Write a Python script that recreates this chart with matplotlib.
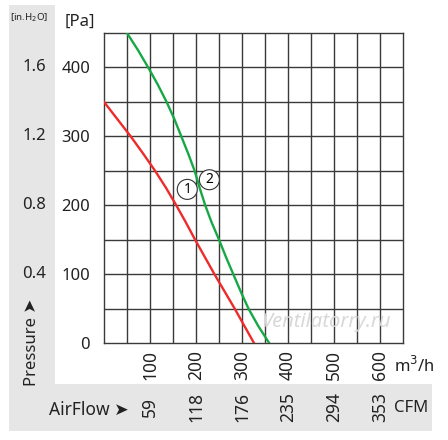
import matplotlib
matplotlib.use("Agg")
import matplotlib.pyplot as plt
import matplotlib.transforms as mtransforms
from matplotlib.patches import Rectangle

plt.rcParams['font.family'] = ['Noto Sans', 'DejaVu Sans']

# curve 1 (red) and curve 2 (green), airflow in m3/h, pressure in Pa
flow_1 = [0, 29, 58, 85, 111, 135, 157, 178, 198, 219, 240, 262, 284, 305, 326]
pres_1 = [350, 325, 300, 275, 250, 225, 200, 175, 150, 125, 100, 75, 50, 25, 0]
flow_2 = [50, 74, 96, 117, 136, 153, 168, 183, 197, 208, 220, 234, 250, 265, 281, 297, 314, 335, 359]
pres_2 = [450, 425, 400, 375, 350, 325, 300, 275, 250, 225, 200, 175, 150, 125, 100, 75, 50, 25, 0]

pa_ticks = [0, 100, 200, 300, 400]
inh2o_labels = ['0.4', '0.8', '1.2', '1.6']
inh2o_at = [100, 200, 300, 400]
m3h_ticks = [100, 200, 300, 400, 500, 600]
cfm_labels = ['59', '118', '176', '235', '294', '353']

W, H = 448, 440
fig = plt.figure(figsize=(W / 100, H / 100), dpi=100)

grey = '#e6e6e6'
txt = '#222222'
fig.patches.append(Rectangle((9 / W, (H - 384) / H), 46 / W, 379 / H,
                             transform=fig.transFigure, fc=grey, ec='none', zorder=0))
fig.patches.append(Rectangle((9 / W, (H - 431) / H), 423 / W, 47 / H,
                             transform=fig.transFigure, fc=grey, ec='none', zorder=0))

ax = fig.add_axes([104 / W, (H - 343) / H, 299 / W, 310 / H])
ax.set_xlim(0, 650)
ax.set_ylim(0, 450)
ax.patch.set_alpha(0)

gc = '#3a3a3a'
for x in range(50, 650, 50):
    ax.axvline(x, color=gc, lw=1.0, zorder=1)
for y in range(50, 450, 50):
    ax.axhline(y, color=gc, lw=1.0, zorder=1)
for s in ax.spines.values():
    s.set_color(gc)
    s.set_linewidth(1.0)

ax.text(482, 30, 'Ventilatorry.ru', color='#d8d8d8', fontsize=14.5, style='italic',
        ha='center', va='center', zorder=2)

ax.plot(flow_1, pres_1, color='#ee2a2a', lw=1.7, zorder=3)
ax.plot(flow_2, pres_2, color='#17a845', lw=1.7, zorder=3)

circ = dict(boxstyle='circle,pad=0.18', fc='white', ec='#333333', lw=0.8)
ax.text(181, 223, '1', fontsize=10, ha='center', va='center', bbox=circ, zorder=4)
ax.text(229, 237, '2', fontsize=10, ha='center', va='center', bbox=circ, zorder=4)

ax.set_yticks(pa_ticks)
ax.set_yticklabels([str(v) for v in pa_ticks], fontsize=12, color=txt)
ax.set_xticks(m3h_ticks)
ax.set_xticklabels([str(v) for v in m3h_ticks], fontsize=12.5, rotation=90, color=txt)
ax.tick_params(axis='y', length=0, pad=10)
ax.tick_params(axis='x', length=0, pad=5)

ty = mtransforms.blended_transform_factory(fig.transFigure, ax.transData)
for lab, v in zip(inh2o_labels, inh2o_at):
    fig.text(46 / W, v, lab, transform=ty, fontsize=12, ha='right', va='center', color=txt)
fig.text(95 / W, (H - 22) / H, '[Pa]', fontsize=12, ha='right', va='center', color=txt)
fig.text(29 / W, (H - 18) / H, '[in.H$_2$O]', fontsize=7, ha='center', va='center', color=txt)

fig.text(32 / W, (H - 342) / H, 'Pressure \u27a4', fontsize=12, rotation=90,
         ha='center', va='center', color=txt)

tx = mtransforms.blended_transform_factory(ax.transData, fig.transFigure)
for lab, v in zip(cfm_labels, m3h_ticks):
    fig.text(v, (H - 407) / H, lab, transform=tx, fontsize=12.5, rotation=90,
             ha='center', va='center', color=txt)
fig.text(394 / W, (H - 366) / H, 'm$^3$/h', fontsize=12, ha='left', va='center', color=txt)
fig.text(394 / W, (H - 408) / H, 'CFM', fontsize=12, ha='left', va='center', color=txt)
fig.text(129 / W, (H - 410) / H, 'AirFlow \u27a4', fontsize=12.5, ha='right', va='center',
         color=txt)

fig.savefig('out.png', dpi=100, facecolor='white')
